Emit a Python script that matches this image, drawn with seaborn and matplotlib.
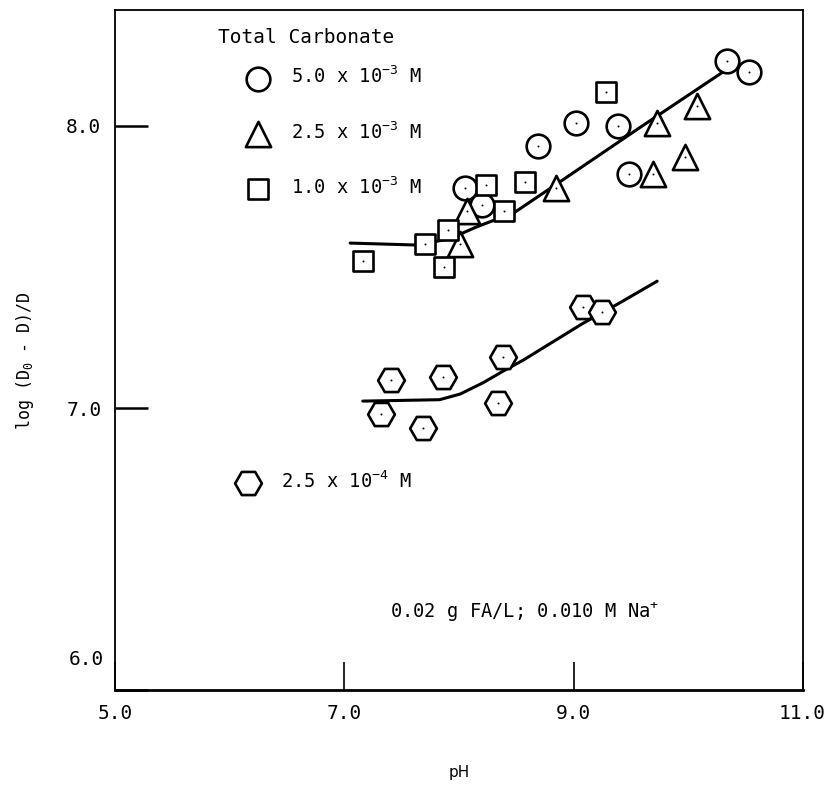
import matplotlib
matplotlib.use('Agg')
import matplotlib.pyplot as plt
import matplotlib.transforms as mtransforms
import seaborn as sns

# pH / log((D0 - D)/D), one pair of lists per carbonate level
ph_50e3 = [8.05, 8.20, 8.69, 9.02, 9.39, 9.48, 10.34, 10.53]
logd_50e3 = [7.78, 7.72, 7.93, 8.01, 8.00, 7.83, 8.23, 8.19]

ph_25e3 = [8.01, 8.07, 8.85, 9.69, 9.73, 9.97, 10.08]
logd_25e3 = [7.58, 7.70, 7.78, 7.83, 8.01, 7.89, 8.07]

ph_10e3 = [7.16, 7.70, 7.87, 7.90, 8.24, 8.39, 8.58, 9.28]
logd_10e3 = [7.52, 7.58, 7.50, 7.63, 7.79, 7.70, 7.80, 8.12]

ph_25e4 = [7.32, 7.41, 7.69, 7.86, 8.34, 8.38, 9.08, 9.25]
logd_25e4 = [6.98, 7.10, 6.93, 7.11, 7.02, 7.18, 7.36, 7.34]

# hand drawn curves through the points
fit_hi_ph = [7.05, 7.63, 7.92, 8.14, 8.49, 8.91, 9.60, 10.30]
fit_hi_logd = [7.585, 7.578, 7.60, 7.64, 7.695, 7.81, 8.00, 8.19]
fit_lo_ph = [7.16, 7.83, 8.01, 8.21, 8.38, 8.56, 9.08, 9.39, 9.73]
fit_lo_logd = [7.025, 7.03, 7.05, 7.09, 7.13, 7.17, 7.30, 7.37, 7.45]

labels = ['5.0 x 10$^{-3}$ M', '2.5 x 10$^{-3}$ M', '1.0 x 10$^{-3}$ M', '2.5 x 10$^{-4}$ M']
x_ticks = [5.0, 7.0, 9.0, 11.0]
x_ticklabels = ['5.0', '7.0', '9.0', '11.0']
y_ticks = [6.0, 7.0, 8.0]

sns.set_style('white')
plt.rcParams['font.family'] = ['DejaVu Sans Mono']
plt.rcParams['mathtext.fontset'] = 'custom'
plt.rcParams['mathtext.rm'] = 'DejaVu Sans Mono'
plt.rcParams['mathtext.it'] = 'DejaVu Sans Mono'
plt.rcParams['mathtext.bf'] = 'DejaVu Sans Mono'
for key in ['text.color', 'axes.labelcolor', 'xtick.color', 'ytick.color']:
    plt.rcParams[key] = 'black'

fig, ax = plt.subplots(figsize=(8.3, 7.89), dpi=100)
fig.subplots_adjust(left=0.139, right=0.967, bottom=0.125, top=0.987)

for fx, fy in [(fit_hi_ph, fit_hi_logd), (fit_lo_ph, fit_lo_logd)]:
    sns.lineplot(x=fx, y=fy, sort=False, estimator=None, color='black', linewidth=2.2, ax=ax, zorder=1)

series = [
    (ph_50e3, logd_50e3, 'o', 290),
    (ph_25e3, logd_25e3, '^', 330),
    (ph_10e3, logd_10e3, 's', 200),
    (ph_25e4, logd_25e4, 'H', 370),
]
for (px, py, mk, sz), lab in zip(series, labels):
    sns.scatterplot(x=px, y=py, marker=mk, s=sz, color='white', edgecolor='black',
                    linewidth=1.9, label=lab, ax=ax, zorder=3)
    # little dot in the middle of each symbol
    sns.scatterplot(x=px, y=py, marker='.', s=8, color='black', linewidth=0, ax=ax, zorder=4, legend=False)

ax.set_xlim(5.0, 11.0)
ax.set_ylim(6.0, 8.41)
ax.set_xticks(x_ticks)
ax.set_xticklabels(x_ticklabels)
ax.set_yticks(y_ticks)
ax.set_yticklabels(['', '7.0', '8.0'])
ax.tick_params(axis='y', left=True, direction='in', length=24, width=1.8, pad=10, labelsize=14)
ax.tick_params(axis='x', bottom=True, direction='in', length=20, width=1.2, pad=10, labelsize=14)

# the 6.0 label sits a bit above the bottom frame in the original
ax.text(-0.017, 6.11, '6.0', transform=mtransforms.blended_transform_factory(ax.transAxes, ax.transData),
        ha='right', va='center', fontsize=14)

for side in ['left', 'top', 'right']:
    ax.spines[side].set_linewidth(1.3)
    ax.spines[side].set_color('black')
ax.spines['bottom'].set_linewidth(2.0)
ax.spines['bottom'].set_color('black')

ax.set_ylabel('log (D$_0$ - D)/D', fontsize=12)
ax.yaxis.set_label_coords(-0.116, 0.485)
ax.set_xlabel('pH', fontsize=11, fontfamily='DejaVu Sans')
ax.xaxis.set_label_coords(0.5, -0.11)

# legend heading and entries
ax.text(0.150, 0.960, 'Total Carbonate', transform=ax.transAxes, ha='left', va='center', fontsize=14)
handles, labs = ax.get_legend_handles_labels()
leg = ax.legend(handles[:3], labs[:3], loc='center left',
                bbox_to_anchor=(0.150, 0.821), frameon=False, fontsize=13.5,
                handlelength=4.2, handletextpad=-0.35, labelspacing=1.8, borderpad=0,
                borderaxespad=0)
ax.add_artist(leg)
ax.legend(handles[3:], labs[3:], loc='center left', bbox_to_anchor=(0.135, 0.307), frameon=False,
          fontsize=13.5, handlelength=4.2, handletextpad=-0.3, borderpad=0, borderaxespad=0)

ax.text(0.40, 0.115, '0.02 g FA/L; 0.010 M Na$^{+}$', transform=ax.transAxes,
        ha='left', va='center', fontsize=13.5)

fig.savefig('out.png', dpi=100)
